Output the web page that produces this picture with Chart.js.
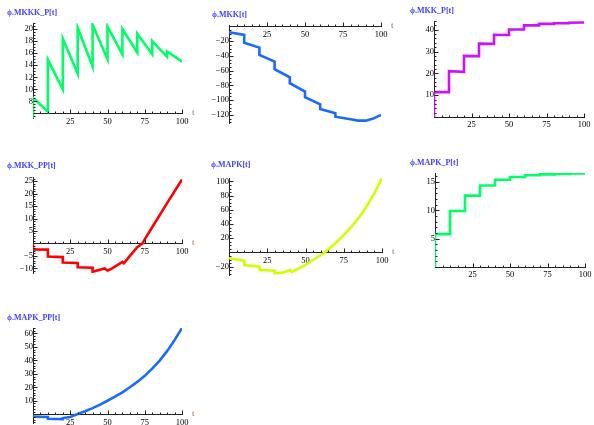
<!DOCTYPE html>
<html>
<head>
<meta charset="utf-8">
<script src="https://cdn.jsdelivr.net/npm/chart.js@4.4.1/dist/chart.umd.min.js"></script>
<style>
  body { margin: 0; background: #fff; }
  #page { position: relative; width: 594px; height: 425px; overflow: hidden; background: #fff; }
  #page canvas { position: absolute; }
  .title { position: absolute; font: bold 8px "Liberation Serif", serif; color: #4040ff; line-height: 10px; white-space: nowrap; }
</style>
</head>
<body>
<div id="page"></div>
<script>
// tick labels shared by every x axis
const ticksX = [25, 50, 75, 100]

// ϕ.MKKK_P[t]
const tMKKK_P = [0, 0, 10, 10, 20, 20, 30, 30, 40, 40, 50, 50, 60, 60, 70, 70, 80, 80, 90, 90, 100]
const mkkkP = [0, 8.6, 6.3, 14.9, 10.0, 18.4, 12.6, 20.2, 13.8, 20.7, 15.0, 20.4, 15.8, 20.0, 16.1, 19.2, 15.8, 18.0, 15.4, 16.3, 14.6]
const ticksMKKK_P = [8, 10, 12, 14, 16, 18, 20]

// ϕ.MKK[t]
const tMKK = [0, 10, 10, 20, 20, 30, 30, 40, 40, 50, 50, 60, 60, 70, 70, 80, 85, 90, 95, 100]
const mkk = [-7.9, -11.5, -22, -28.7, -38.7, -47.7, -58, -69, -77, -88.4, -96, -105.6, -112, -117.8, -122.4, -126, -127.8, -127.8, -125, -120]
const ticksMKK = [-120, -100, -80, -60, -40, -20]

// ϕ.MKK_P[t]
const tMKK_P = [0, 0, 10, 10, 20, 20, 30, 30, 40, 40, 50, 50, 60, 60, 70, 70, 80, 80, 90, 90, 100]
const mkkP = [0, 11.4, 11.4, 21.0, 20.7, 28.0, 27.9, 33.6, 33.5, 37.7, 37.6, 40.1, 40.1, 42.0, 42.0, 42.7, 42.7, 43.0, 43.0, 43.2, 43.3]
const ticksMKK_P = [10, 20, 30, 40]

// ϕ.MKK_PP[t]
const tMKK_PP = [0, 0, 10, 10, 20, 20, 30, 30, 40, 40, 48, 50, 52, 55, 60, 61, 65, 70, 73.5, 75, 80, 90, 100]
const mkkPP = [0, -2.4, -2.5, -5.3, -5.5, -7.7, -7.9, -9.6, -9.8, -11.4, -10.1, -10.9, -10.4, -9.3, -7.4, -8.0, -5.0, -1.5, 0, 1.6, 6.5, 16.2, 25.7]
const ticksMKK_PP = [-10, -5, 5, 10, 15, 20, 25]

// ϕ.MAPK[t]
const tMAPK = [0, 10, 10, 20, 20, 30, 30, 35, 40, 41, 45, 50, 55, 60, 62.5, 66, 70, 75, 80, 85, 90, 95, 100]
const mapk = [-8.2, -11.5, -17.6, -20, -24.6, -25.6, -29.3, -28.4, -24.8, -27.6, -23.2, -17.6, -10.6, -3.5, 0, 6.3, 14, 24.5, 36, 49.5, 65, 83, 105]
const ticksMAPK = [-20, 20, 40, 60, 80, 100]

// ϕ.MAPK_P[t]
const tMAPK_P = [0, 0, 10, 10, 20, 20, 30, 30, 40, 40, 50, 50, 60, 60, 70, 70, 80, 80, 90, 90, 100]
const mapkP = [0, 5.8, 5.8, 9.9, 9.9, 12.6, 12.6, 14.4, 14.4, 15.4, 15.4, 15.9, 15.9, 16.2, 16.2, 16.35, 16.35, 16.45, 16.45, 16.5, 16.5]
const ticksMAPK_P = [5, 10, 15]

// ϕ.MAPK_PP[t]
const tMAPK_PP = [0, 10, 10, 20, 20, 25, 30, 35, 40, 45, 50, 55, 60, 65, 70, 75, 80, 85, 90, 95, 100]
const mapkPP = [-1.8, -2.0, -3.4, -3.6, -2.8, -2.0, 0.2, 2.2, 4.5, 7.1, 10, 13, 16.3, 20, 24, 28.5, 33.8, 39.8, 46.8, 55, 64]
const ticksMAPK_PP = [10, 20, 30, 40, 50, 60]

Chart.defaults.font.family = '"Liberation Serif", serif'
Chart.defaults.font.size = 8.5
Chart.defaults.color = '#000'

// tick marks drawn inside the axes (Mathematica style) plus the "t" axis label
const axisMarks = {
    id: 'axisMarks',
    afterDraw(chart, args, opts) {
        const ctx = chart.ctx
        const xs = chart.scales.x
        const ys = chart.scales.y
        const axisY = Math.round(ys.getPixelForValue(opts.cross)) + 0.5
        const axisX = Math.round(xs.getPixelForValue(0)) + 0.5
        ctx.save()
        ctx.strokeStyle = '#222'
        ctx.lineWidth = 1
        ctx.beginPath()
        for (let i = 1; i <= 20; i++) {
            let v = i * 5
            let len = v % 25 == 0 ? 4 : 2
            let px = Math.round(xs.getPixelForValue(v)) + 0.5
            ctx.moveTo(px, axisY)
            ctx.lineTo(px, axisY - len)
        }
        let first = Math.ceil(ys.min / opts.minor)
        let last = Math.floor(ys.max / opts.minor)
        for (let i = first; i <= last; i++) {
            let v = i * opts.minor
            let len = opts.major.some(m => Math.abs(m - v) < 1e-6) ? 4 : 2
            let py = Math.round(ys.getPixelForValue(v)) + 0.5
            ctx.moveTo(axisX, py)
            ctx.lineTo(axisX + len, py)
        }
        ctx.stroke()
        ctx.fillStyle = '#9c6a3c'
        ctx.font = '9px "Liberation Serif", serif'
        ctx.textBaseline = 'middle'
        ctx.fillText('t', xs.right + 10, axisY - 1)
        ctx.restore()
    }
}

function minusLabel(v) {
    return v < 0 ? '\u2212' + Math.abs(v) : String(v)
}

function makeChart(title, times, values, yTicks, opts) {
    const page = document.getElementById('page')
    const [left, right, top, bottom] = opts.area
    const padL = 33, padR = 22, padT = 14, padB = 16
    const canvas = document.createElement('canvas')
    canvas.width = right - left + padL + padR
    canvas.height = bottom - top + padT + padB
    canvas.style.left = (left - padL) + 'px'
    canvas.style.top = (top - padT) + 'px'
    page.appendChild(canvas)

    const label = document.createElement('div')
    label.className = 'title'
    label.textContent = title
    label.style.left = opts.titleAt[0] + 'px'
    label.style.top = (opts.titleAt[1] - 5) + 'px'
    page.appendChild(label)

    return new Chart(canvas, {
        type: 'line',
        data: {
            datasets: [{
                data: times.map((t, i) => ({x: t, y: values[i]})),
                borderColor: opts.color,
                borderWidth: 2.6,
                pointRadius: 0,
                tension: 0,
                fill: false
            }]
        },
        options: {
            responsive: false,
            animation: false,
            events: [],
            layout: {padding: {left: padL, right: padR, top: padT, bottom: padB}},
            plugins: {
                legend: {display: false},
                tooltip: {enabled: false},
                axisMarks: {cross: opts.cross, minor: opts.minor, major: yTicks}
            },
            scales: {
                x: {
                    type: 'linear',
                    min: 0,
                    max: 100,
                    position: {y: opts.cross},
                    grid: {display: false, drawTicks: false},
                    border: {color: '#222', width: 1},
                    ticks: {padding: 3, maxRotation: 0, autoSkip: false, callback: minusLabel},
                    afterBuildTicks: s => { s.ticks = ticksX.map(v => ({value: v})) }
                },
                y: {
                    type: 'linear',
                    min: opts.range[0],
                    max: opts.range[1],
                    position: {x: 0},
                    grid: {display: false, drawTicks: false},
                    border: {color: '#222', width: 1},
                    ticks: {padding: 3, autoSkip: false, callback: minusLabel},
                    afterBuildTicks: s => { s.ticks = yTicks.map(v => ({value: v})) }
                }
            }
        },
        plugins: [axisMarks]
    })
}

makeChart('ϕ.MKKK_P[t]', tMKKK_P, mkkkP, ticksMKKK_P,
    {area: [33, 182, 23, 118], range: [5.25, 21], cross: 6, minor: 0.5, color: '#00ff66', titleAt: [7, 13]})
makeChart('ϕ.MKK[t]', tMKK, mkk, ticksMKK,
    {area: [229, 381, 25, 123], range: [-131, 2], cross: 0, minor: 5, color: '#1a6aff', titleAt: [212, 15]})
makeChart('ϕ.MKK_P[t]', tMKK_P, mkkP, ticksMKK_P,
    {area: [434, 584, 21, 117], range: [0, 44], cross: 0, minor: 2, color: '#cc11ff', titleAt: [410, 11]})
makeChart('ϕ.MKK_PP[t]', tMKK_PP, mkkPP, ticksMKK_PP,
    {area: [33, 182, 177, 273], range: [-11.9, 26.7], cross: 0, minor: 1, color: '#ff0000', titleAt: [7, 166]})
makeChart('ϕ.MAPK[t]', tMAPK, mapk, ticksMAPK,
    {area: [229, 382, 178, 275], range: [-31.7, 104.8], cross: 0, minor: 5, color: '#d0ff00', titleAt: [211, 165]})
makeChart('ϕ.MAPK_P[t]', tMAPK_P, mapkP, ticksMAPK_P,
    {area: [435, 585, 173, 267], range: [0, 16.6], cross: 0, minor: 1, color: '#00ff66', titleAt: [410, 163]})
makeChart('ϕ.MAPK_PP[t]', tMAPK_PP, mapkPP, ticksMAPK_PP,
    {area: [33, 182, 328, 423], range: [-6.5, 64], cross: 0, minor: 2, color: '#1a6aff', titleAt: [7, 318]})
</script>
</body>
</html>
